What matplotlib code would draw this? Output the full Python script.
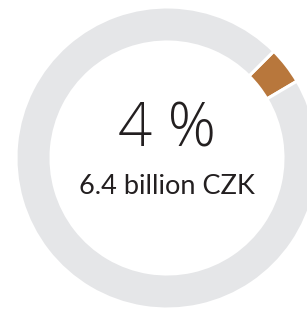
import matplotlib
matplotlib.use("Agg")
import matplotlib.pyplot as plt

# Data
categories = ["Share", "Rest"]
values = [4, 96]
colors = ["#B8773C", "#E5E6E8"]
main_label = "4 %"
sub_label = "6.4 billion CZK"

W, H = 307, 310
fig = plt.figure(figsize=(W / 100, H / 100), dpi=100)
ax = fig.add_axes([0, 0, 1, 1])

cx, cy = 167, H - 158
ax.pie(values, colors=colors, radius=151, center=(cx, cy), startangle=45,
       counterclock=False, frame=True,
       wedgeprops=dict(width=35, edgecolor="white", linewidth=2.2))
ax.set_xlim(0, W)
ax.set_ylim(0, H)
ax.set_aspect("equal")
ax.axis("off")

ax.text(cx, H - 131, main_label, ha="center", va="center", fontsize=43,
        family="Open Sans", fontweight="light", color="#231F20")
ax.text(cx, H - 187, sub_label, ha="center", va="center", fontsize=19.5,
        family="Lato", fontweight="normal", color="#231F20")

fig.savefig("out.png", dpi=100)
